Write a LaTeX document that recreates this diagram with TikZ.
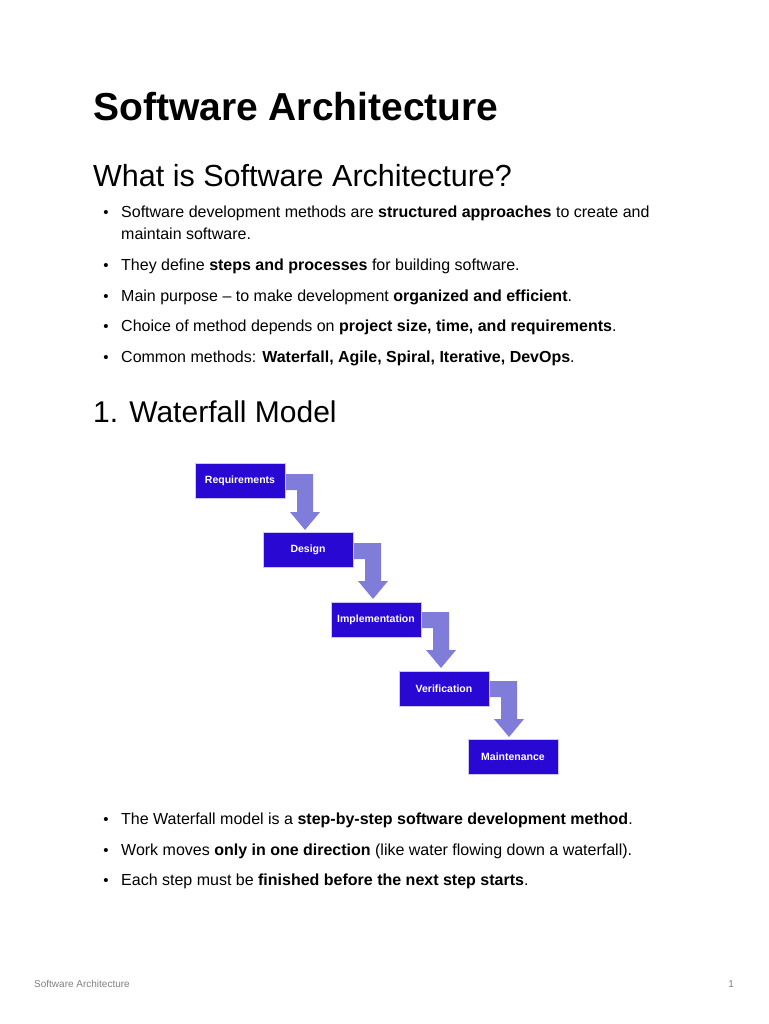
\documentclass[tikz,border=0pt]{standalone}
\usepackage{fontspec}
\setmainfont{Liberation Sans}
\begin{document}
\begin{tikzpicture}[x=1pt,y=-1pt,
  txt/.style={anchor=base west,inner sep=0pt,font=\fontsize{16}{19}\selectfont},
  bul/.style={anchor=base,inner sep=0pt,font=\fontsize{15}{18}\selectfont},
  box/.style={fill={rgb,255:red,42;green,8;blue,212},draw={rgb,255:red,200;green,200;blue,240},line width=0.6pt,minimum width=90pt,minimum height=35pt,inner sep=0pt,text=white,font=\bfseries\fontsize{10.5}{13}\selectfont},
  arr/.style={fill={rgb,255:red,128;green,124;blue,218}}]
\useasboundingbox (0,0) rectangle (768,1024);
\fill[white] (0,0) rectangle (768,1024);
\node[txt,font=\bfseries\fontsize{39}{42}\selectfont] (t) at (93,121) {Software Architecture};
\node[txt,font=\fontsize{30.5}{34}\selectfont] (h1) at (93,187) {What is Software Architecture?};
\foreach \y/\n in {218/a,270/b,301/c,331/d,362/e,824/f,855/g,885/h}{\node[bul] (b\n) at (106,\y) {•};}
\node[txt] (l1) at (121,218) {Software development methods are \textbf{structured approaches} to create and};
\node[txt] (l1b) at (121,240) {maintain software.};
\node[txt] (l2) at (121,270) {They define \textbf{steps and processes} for building software.};
\node[txt] (l3) at (121,301) {Main purpose – to make development \textbf{organized and efficient}.};
\node[txt] (l4) at (121,331) {Choice of method depends on \textbf{project size, time, and requirements}.};
\node[txt] (l5) at (121,362) {Common methods: \textbf{Waterfall, Agile, Spiral, Iterative, DevOps}.};
\node[txt,font=\fontsize{30}{34}\selectfont] (h2) at (93,422) {1. Waterfall Model};
\foreach \i in {0,1,2,3}{
  \fill[arr,shift={(68*\i,69*\i)}] (285,474) -- (313,474) -- (313,512) -- (320,512) -- (305,530) -- (290,512) -- (297,512) -- (297,490) -- (285,490) -- cycle;
}
\node[box] (r) at (240,481) {Requirements};
\node[box] (d) at (308,550) {Design};
\node[box] (i) at (376,620) {Implementation};
\node[box] (v) at (444,689) {Verification};
\node[box] (m) at (513,757) {Maintenance};
\node[txt] (l6) at (121,824) {The Waterfall model is a \textbf{step-by-step software development method}.};
\node[txt] (l7) at (121,855) {Work moves \textbf{only in one direction} (like water flowing down a waterfall).};
\node[txt] (l8) at (121,885) {Each step must be \textbf{finished before the next step starts}.};
\node[txt,font=\fontsize{10}{12}\selectfont,text=gray] (f1) at (34,987) {Software Architecture};
\node[anchor=base east,inner sep=0pt,font=\fontsize{10}{12}\selectfont,text=gray] (f2) at (734,987) {1};
\end{tikzpicture}
\end{document}
